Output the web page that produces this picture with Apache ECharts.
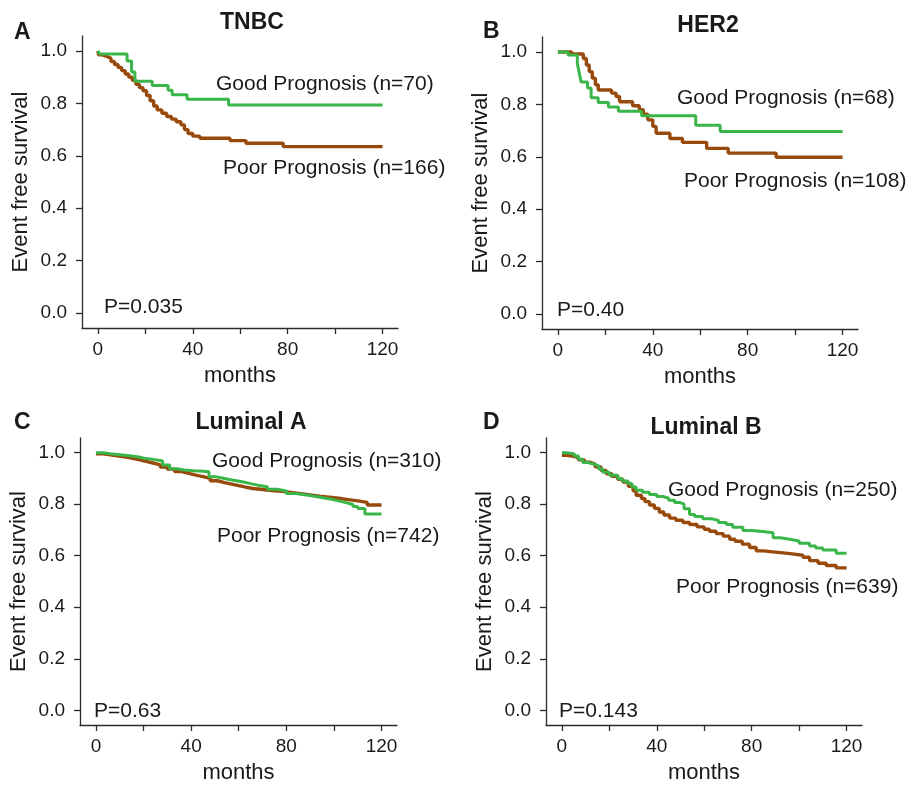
<!DOCTYPE html>
<html>
<head>
<meta charset="utf-8">
<script src="https://cdn.jsdelivr.net/npm/echarts@6/dist/echarts.min.js"></script>
<style>
  html, body { margin: 0; padding: 0; background: #fff; }
  #chart { width: 909px; height: 785px; }
</style>
</head>
<body>
<div id="chart"></div>
<script>
// Kaplan-Meier curves (months, event free survival)
var tnbcGoodT = [0, 0.8, 12.3, 14.2, 15.6, 22.9, 29.6, 31.3, 37.6, 55.1, 120];
var tnbcGoodS = [1.0, 0.988, 0.962, 0.92, 0.884, 0.868, 0.85, 0.833, 0.816, 0.794, 0.794];
var tnbcPoorT = [0, 0.3, 2, 4, 5.5, 7, 8.5, 10, 11.5, 13, 14.5, 16, 17.5, 19, 20.5, 22, 23.5, 25, 27, 29, 31, 33, 35, 36.5, 38, 40, 43, 55.7, 62.4, 78.1, 120];
var tnbcPoorS = [1.0, 0.985, 0.978, 0.972, 0.96, 0.948, 0.937, 0.925, 0.912, 0.9, 0.888, 0.873, 0.86, 0.848, 0.83, 0.81, 0.79, 0.775, 0.762, 0.75, 0.74, 0.73, 0.718, 0.7, 0.685, 0.675, 0.667, 0.658, 0.648, 0.635, 0.635];

var her2GoodT = [0, 4.3, 8.2, 9.0, 9.8, 12.5, 14, 17, 21.3, 25.5, 35.3, 58.1, 68.4, 120];
var her2GoodS = [1.0, 0.988, 0.955, 0.92, 0.885, 0.862, 0.825, 0.807, 0.79, 0.774, 0.757, 0.72, 0.696, 0.696];
var her2PoorT = [0, 5.8, 10.7, 12, 13.2, 14.5, 15.8, 17, 22.6, 24.5, 26, 31.5, 34.3, 36, 37.9, 40, 41.4, 47.2, 52.5, 62.7, 71.8, 92, 120];
var her2PoorS = [1.0, 0.992, 0.975, 0.95, 0.925, 0.9, 0.875, 0.855, 0.843, 0.83, 0.81, 0.795, 0.78, 0.762, 0.741, 0.716, 0.69, 0.67, 0.655, 0.632, 0.614, 0.598, 0.598];

var lumAGoodT = [0, 3, 6, 9, 12, 15, 18, 21, 24, 27, 28, 31, 34, 37, 41, 45.5, 47.5, 50, 53, 56, 59, 62, 65, 68, 72, 76, 80, 84, 87, 90, 93, 96, 99, 102, 105, 108, 110, 113, 120];
var lumAGoodS = [1.0, 0.996, 0.993, 0.99, 0.987, 0.983, 0.977, 0.974, 0.97, 0.968, 0.952, 0.938, 0.933, 0.93, 0.928, 0.926, 0.907, 0.902, 0.896, 0.891, 0.886, 0.88, 0.874, 0.868, 0.858, 0.851, 0.842, 0.838, 0.834, 0.829, 0.824, 0.819, 0.813, 0.806, 0.799, 0.791, 0.783, 0.762, 0.762];
var lumAPoorT = [0, 3, 6, 9, 12, 15, 18, 21, 24, 27, 30, 33, 36, 39, 42, 45, 48, 51, 54, 57, 60, 63, 66, 70, 74, 78, 82, 86, 90, 94, 98, 102, 106, 110, 114, 120];
var lumAPoorS = [0.996, 0.992, 0.988, 0.984, 0.979, 0.973, 0.966, 0.96, 0.953, 0.944, 0.936, 0.927, 0.92, 0.913, 0.907, 0.9, 0.891, 0.884, 0.878, 0.872, 0.866, 0.861, 0.857, 0.853, 0.85, 0.846, 0.841, 0.836, 0.831, 0.827, 0.823, 0.818, 0.813, 0.807, 0.797, 0.797];

var lumBGoodT = [0, 2, 5.3, 7, 8.8, 11, 13.7, 15.5, 17.3, 20, 23.6, 25.5, 27.8, 29.5, 31.3, 34, 36.9, 40, 42.6, 45, 47.5, 49.6, 51.5, 53.8, 56, 59.4, 63, 66, 69.3, 72, 76.3, 80, 84.7, 89, 92, 96, 100, 104.4, 107, 110, 115.6, 120];
var lumBGoodS = [1.0, 0.995, 0.987, 0.975, 0.962, 0.955, 0.949, 0.937, 0.924, 0.912, 0.899, 0.89, 0.88, 0.867, 0.854, 0.846, 0.838, 0.83, 0.823, 0.815, 0.807, 0.8, 0.782, 0.76, 0.752, 0.744, 0.737, 0.729, 0.721, 0.711, 0.698, 0.694, 0.689, 0.67, 0.664, 0.657, 0.648, 0.638, 0.63, 0.622, 0.61, 0.61];
var lumBPoorT = [0, 2, 4.6, 7, 9.5, 11.7, 14, 16.5, 18.7, 21, 23.5, 25.7, 28, 30, 31.3, 33.5, 35, 36.9, 39, 41, 43, 45.4, 48, 51, 53.8, 57, 60, 62.2, 65, 68, 70.7, 73, 76, 79.1, 81.9, 85, 89, 93.2, 97, 101.6, 104.4, 108, 111.4, 115.6, 120];
var lumBPoorS = [0.99, 0.987, 0.981, 0.972, 0.963, 0.956, 0.945, 0.931, 0.918, 0.908, 0.897, 0.886, 0.87, 0.852, 0.835, 0.822, 0.81, 0.797, 0.784, 0.77, 0.758, 0.746, 0.738, 0.729, 0.721, 0.712, 0.703, 0.695, 0.686, 0.676, 0.664, 0.656, 0.645, 0.632, 0.619, 0.615, 0.611, 0.607, 0.602, 0.594, 0.581, 0.571, 0.562, 0.553, 0.553];

var yTicks = [0, 0.2, 0.4, 0.6, 0.8, 1.0];
var xTicks = [0, 20, 40, 60, 80, 100, 120];
var xLabels = [0, 40, 80, 120];

var panelLetters = ['A', 'B', 'C', 'D'];
var panelTitles = ['TNBC', 'HER2', 'Luminal A', 'Luminal B'];
var goodLabels = ['Good Prognosis (n=70)', 'Good Prognosis (n=68)', 'Good Prognosis (n=310)', 'Good Prognosis (n=250)'];
var poorLabels = ['Poor Prognosis (n=166)', 'Poor Prognosis (n=108)', 'Poor Prognosis (n=742)', 'Poor Prognosis (n=639)'];
var pValues = ['P=0.035', 'P=0.40', 'P=0.63', 'P=0.143'];

function pairs(t, s) {
  return t.map(function (v, i) { return [v, s[i]]; });
}

var curves = [
  { good: pairs(tnbcGoodT, tnbcGoodS), poor: pairs(tnbcPoorT, tnbcPoorS) },
  { good: pairs(her2GoodT, her2GoodS), poor: pairs(her2PoorT, her2PoorS) },
  { good: pairs(lumAGoodT, lumAGoodS), poor: pairs(lumAPoorT, lumAPoorS) },
  { good: pairs(lumBGoodT, lumBGoodS), poor: pairs(lumBPoorT, lumBPoorS) }
];

// layout
var grids = [
  { left: 82, top: 36, width: 316, height: 292 },
  { left: 542, top: 37, width: 316, height: 292 },
  { left: 80, top: 438, width: 317, height: 293 },
  { left: 546, top: 438, width: 316, height: 292 }
];
var letterPos = [[14, 33], [483, 32], [14, 423], [483, 423]];
var titlePos = [[252, 23], [708, 26], [251, 423], [706, 428]];
var goodPos = [[216, 84], [677, 98], [212, 461], [668, 490]];
var poorPos = [[223, 168], [684, 181], [217, 536], [676, 587]];
var pPos = [[104, 307], [557, 310], [94, 711], [559, 711]];

var FONT = '"Liberation Sans", Arial, Helvetica, sans-serif';
var TXT = '#1a1a1a';
var AX = '#2b2b2b';
var GREEN = '#3ab54a';
var BROWN = '#974a0c';

var xAxes = [], yAxes = [], series = [], graphics = [];

grids.forEach(function (g, i) {
  xAxes.push({
    type: 'value', gridIndex: i, min: -6.7, max: 126.5,
    name: 'months', nameLocation: 'middle', nameGap: 37,
    nameTextStyle: { fontSize: 22, color: TXT, fontFamily: FONT },
    axisLine: { show: true, onZero: false, lineStyle: { color: AX, width: 1.3 } },
    axisTick: { show: true, length: 6, lineStyle: { color: AX, width: 1.3 }, customValues: xTicks },
    axisLabel: { fontSize: 19, color: TXT, fontFamily: FONT, margin: 12, customValues: xLabels },
    splitLine: { show: false }
  });
  yAxes.push({
    type: 'value', gridIndex: i, min: -0.057, max: 1.057,
    name: 'Event free survival', nameLocation: 'middle', nameGap: 50, nameRotate: 90,
    nameTextStyle: { fontSize: 22, color: TXT, fontFamily: FONT },
    axisLine: { show: true, onZero: false, lineStyle: { color: AX, width: 1.3 } },
    axisTick: { show: true, length: 6, lineStyle: { color: AX, width: 1.3 }, customValues: yTicks },
    axisLabel: {
      fontSize: 19, color: TXT, fontFamily: FONT, margin: 15, customValues: yTicks,
      formatter: function (v) { return v.toFixed(1); }
    },
    splitLine: { show: false }
  });
  series.push({
    type: 'line', xAxisIndex: i, yAxisIndex: i, step: 'end', showSymbol: false,
    data: curves[i].poor, lineStyle: { color: BROWN, width: 3.4 }, itemStyle: { color: BROWN }
  });
  series.push({
    type: 'line', xAxisIndex: i, yAxisIndex: i, step: 'end', showSymbol: false,
    data: curves[i].good, lineStyle: { color: GREEN, width: 3 }, itemStyle: { color: GREEN }
  });

  function txt(s, pos, size, bold, align) {
    graphics.push({
      type: 'text', x: pos[0], y: pos[1],
      style: {
        text: s, fill: TXT, align: align || 'left', verticalAlign: 'middle',
        font: (bold ? 'bold ' : '') + size + 'px ' + FONT
      }
    });
  }
  txt(panelLetters[i], letterPos[i], 23, true);
  txt(panelTitles[i], titlePos[i], 23, true, 'center');
  txt(goodLabels[i], goodPos[i], 21);
  txt(poorLabels[i], poorPos[i], 21);
  txt(pValues[i], pPos[i], 21);
});

var chart = echarts.init(document.getElementById('chart'));
chart.setOption({
  animation: false,
  backgroundColor: '#fff',
  grid: grids,
  xAxis: xAxes,
  yAxis: yAxes,
  series: series,
  graphic: graphics
});
</script>
</body>
</html>
